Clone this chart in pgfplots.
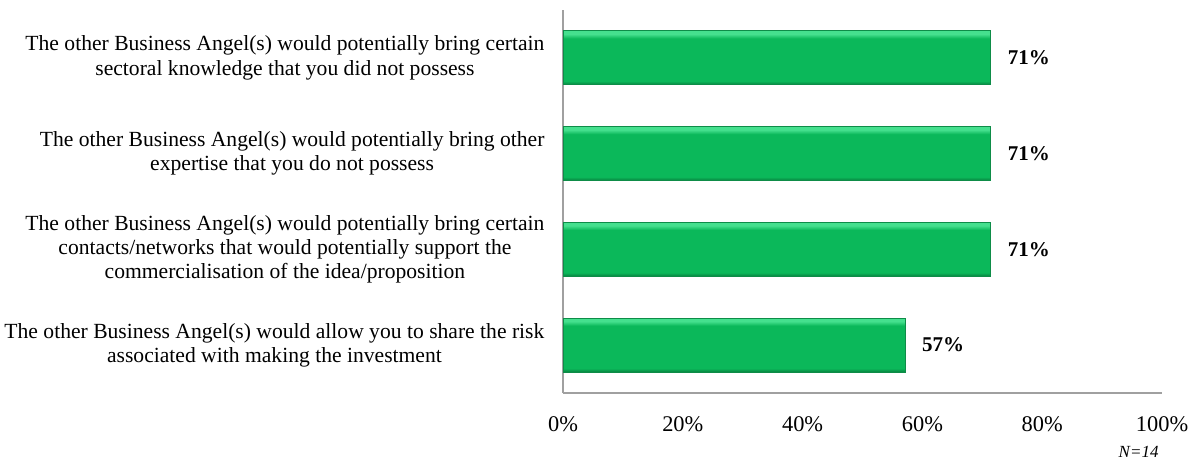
\documentclass[border=0pt]{standalone}
\usepackage{pgfplots}
\pgfplotsset{compat=1.18}
\usepackage{fontspec}
\setmainfont{Liberation Serif}
\definecolor{gdark}{HTML}{07803E}
\definecolor{gmid}{HTML}{0BB85A}
\definecolor{glight}{HTML}{45E08E}
\definecolor{gedge}{HTML}{0E8C48}
\definecolor{axgray}{HTML}{A0A0A0}
\pgfdeclareverticalshading{barshade}{100bp}{color(0bp)=(gdark); color(25bp)=(gdark); color(28.5bp)=(gmid); color(68bp)=(gmid); color(72bp)=(glight); color(75bp)=(glight); color(100bp)=(glight)}
\tikzset{gbar/.style={draw=gedge, line width=0.5pt, shading=barshade, shade}}
\begin{document}
\begin{tikzpicture}
\begin{axis}[
  scale only axis,
  width=299.5pt, height=191.5pt,
  xmin=0, xmax=100, ymin=-0.5, ymax=3.5,
  axis x line*=bottom, axis y line*=left,
  axis line style={draw=axgray, line width=0.8pt},
  xtick={0,20,40,60,80,100},
  xticklabels={0\%,20\%,40\%,60\%,80\%,100\%},
  xtick style={draw=none}, ytick style={draw=none},
  xticklabel style={font=\fontsize{11.2}{13}\selectfont, yshift=-8.5pt},
  ytick={0,1,2,3},
  yticklabels={
    {The other Business Angel(s) would allow you to share the risk\\associated with making the investment},
    {The other Business Angel(s) would potentially bring certain\\contacts/networks that would potentially support the\\commercialisation of the idea/proposition},
    {The other Business Angel(s) would potentially bring other\\expertise that you do not possess},
    {The other Business Angel(s) would potentially bring certain\\sectoral knowledge that you did not possess}},
  yticklabel style={font=\fontsize{10.8}{12.2}\selectfont, align=center, xshift=-1.5pt},
  xbar, bar width=27pt, bar shift=0pt,
  point meta=x,
  nodes near coords={\pgfmathprintnumber[fixed,precision=0,assume math mode=true]{\pgfplotspointmeta}\%},
  nodes near coords style={font=\fontsize{10.5}{12}\selectfont\bfseries, text=black, anchor=west, xshift=5pt},
  clip=false,
]
\addplot[gbar] coordinates {(57.1,0)};
\addplot[gbar] coordinates {(71.4,1)};
\addplot[gbar] coordinates {(71.4,2)};
\addplot[gbar] coordinates {(71.4,3)};
\coordinate (bl) at (rel axis cs:-0.9399,-0.1802);
\coordinate (tr) at (rel axis cs:1.0634,1.0261);
\node[anchor=east, font=\fontsize{8.5}{10}\selectfont\itshape] at (rel axis cs:1.006,-0.154) {N=14};
\end{axis}
\pgfresetboundingbox
\path[use as bounding box] (bl) rectangle (tr);
\end{tikzpicture}
\end{document}
